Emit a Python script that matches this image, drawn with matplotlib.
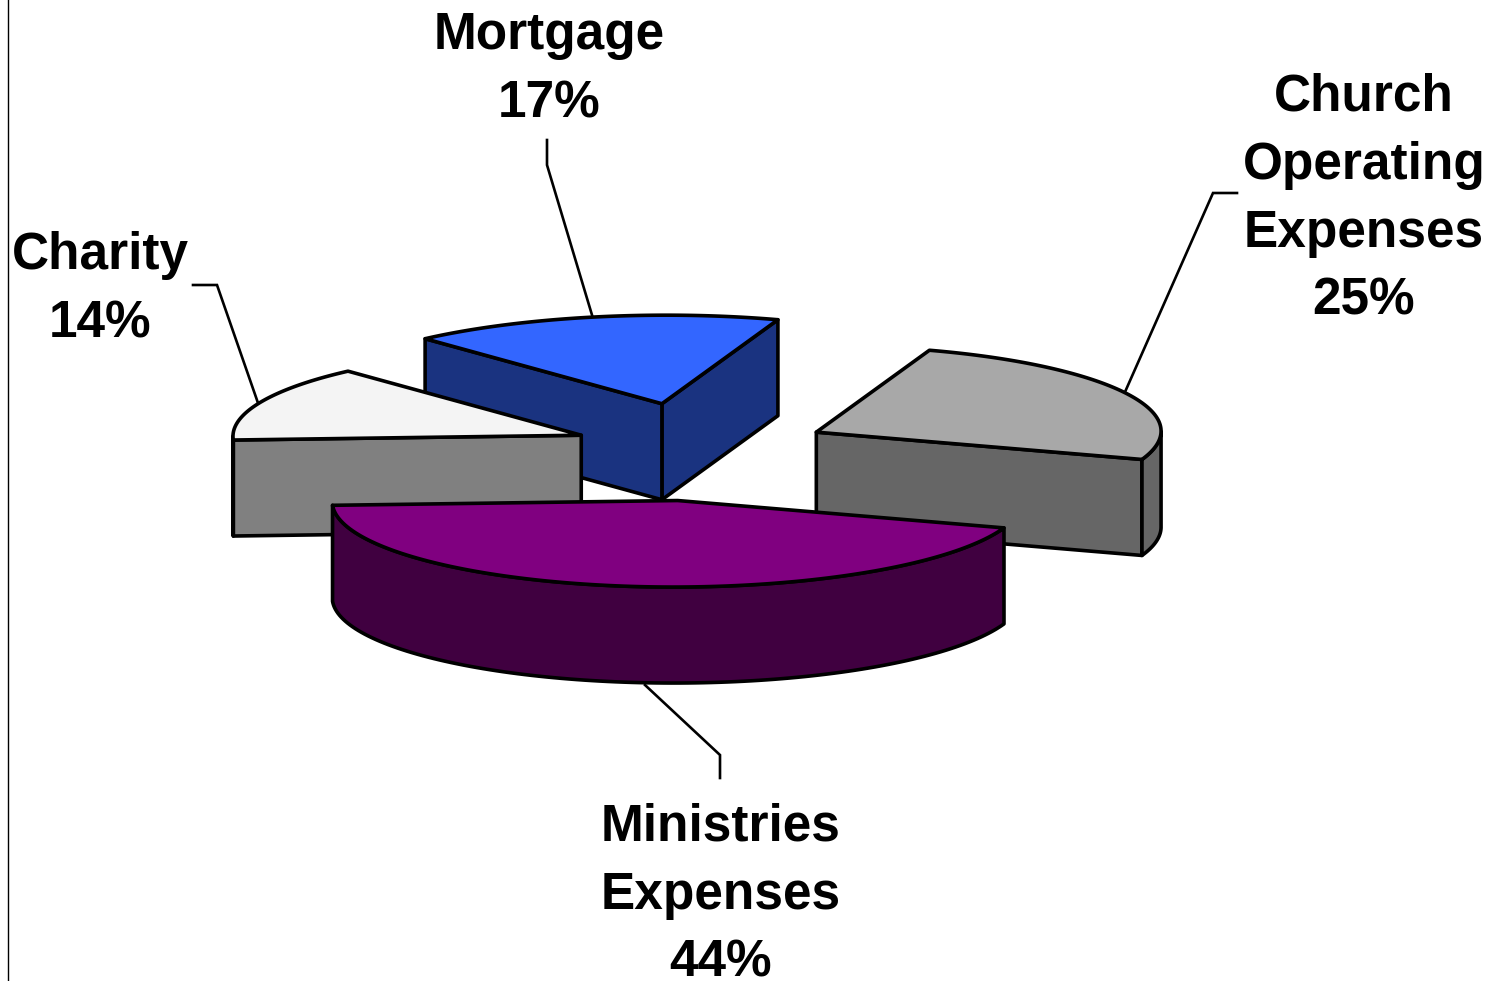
import matplotlib
matplotlib.use('Agg')
import matplotlib.pyplot as plt
import numpy as np
from matplotlib.patches import Polygon

plt.rcParams['font.family'] = ['Liberation Sans', 'DejaVu Sans']

# Data, in pie order starting from the front right
labels = ['Church\nOperating\nExpenses', 'Mortgage', 'Charity', 'Ministries\nExpenses']
shares = [25, 17, 14, 44]
explode = [0.375, 0.5, 0.355, 0.61]
radius = [0.975, 1.0, 0.985, 0.977]
nudge_x = [0, 0, 0, 12]
top_colors = ['#A8A8A8', '#3366FF', '#F4F4F4', '#800080']
side_colors = ['#666666', '#1A3380', '#808080', '#400040']

# Label centres and leader lines, in image pixels
label_pos = [(1364, 199), (549, 70), (100, 290), (721, 895)]
leaders = [[(1125, 392), (1213, 193), (1237, 193)],
           [(592, 315), (547, 165), (547, 140)],
           [(258, 403), (217, 285), (193, 285)],
           [(645, 685), (720, 755), (720, 778)]]

# Tilted pie plane: where two perpendicular radii land on screen
center = np.array([697.0, 447.0])
axis_a = np.array([116.0, -84.0])
axis_d = np.array([334.0, 28.0])
depth = 96
start_angle = -90
draw_order = [1, 2, 0, 3]
edge_lw = 2.6


def project(deg):
    rad = np.radians(deg)
    return np.outer(np.cos(rad), axis_a) - np.outer(np.sin(rad), axis_d)


def draw_slice(ax, t0, t1, off, r, dx, top_color, side_color):
    mid = project(np.array([(t0 + t1) / 2]))[0]
    apex = center + off * mid + np.array([dx, 0])
    arc = apex + r * project(np.linspace(t0, t1, 120))
    outline = np.vstack([apex, arc, apex])
    drop = np.array([0, depth])

    # only faces whose outside looks down the screen can be seen
    cuts = [outline[:2], outline[-2:]]
    for seg in cuts:
        if seg[1, 0] > seg[0, 0]:
            quad = np.vstack([seg, seg[::-1] + drop])
            ax.add_patch(Polygon(quad, fc=side_color, ec='black', lw=edge_lw, joinstyle='round'))
    front = np.diff(arc[:, 0]) > 0
    if front.any():
        idx = np.where(front)[0]
        wall = arc[idx[0]:idx[-1] + 2]
        quad = np.vstack([wall, wall[::-1] + drop])
        ax.add_patch(Polygon(quad, fc=side_color, ec='black', lw=edge_lw, joinstyle='round'))
    ax.add_patch(Polygon(outline, fc=top_color, ec='black', lw=edge_lw, joinstyle='round'))


fig = plt.figure(figsize=(14.92, 9.81), dpi=100)
ax = fig.add_axes([0, 0, 1, 1])
ax.set_xlim(0, 1492)
ax.set_ylim(981, 0)
ax.axis('off')

# Left border of the original page
ax.plot([8, 8], [0, 981], color='black', lw=1.0)

edges = start_angle + np.cumsum([0] + shares) * 3.6
for i in draw_order:
    draw_slice(ax, edges[i], edges[i + 1], explode[i], radius[i], nudge_x[i], top_colors[i], side_colors[i])

for i in range(len(labels)):
    xs, ys = zip(*leaders[i])
    ax.plot(xs, ys, color='black', lw=1.9, solid_joinstyle='miter', zorder=1)
    ax.text(label_pos[i][0], label_pos[i][1], f'{labels[i]}\n{shares[i]}%', ha='center', va='center',
            fontsize=37, fontweight='bold', color='black', linespacing=1.5)

fig.savefig('out.png', dpi=100, facecolor='white')
plt.close()
